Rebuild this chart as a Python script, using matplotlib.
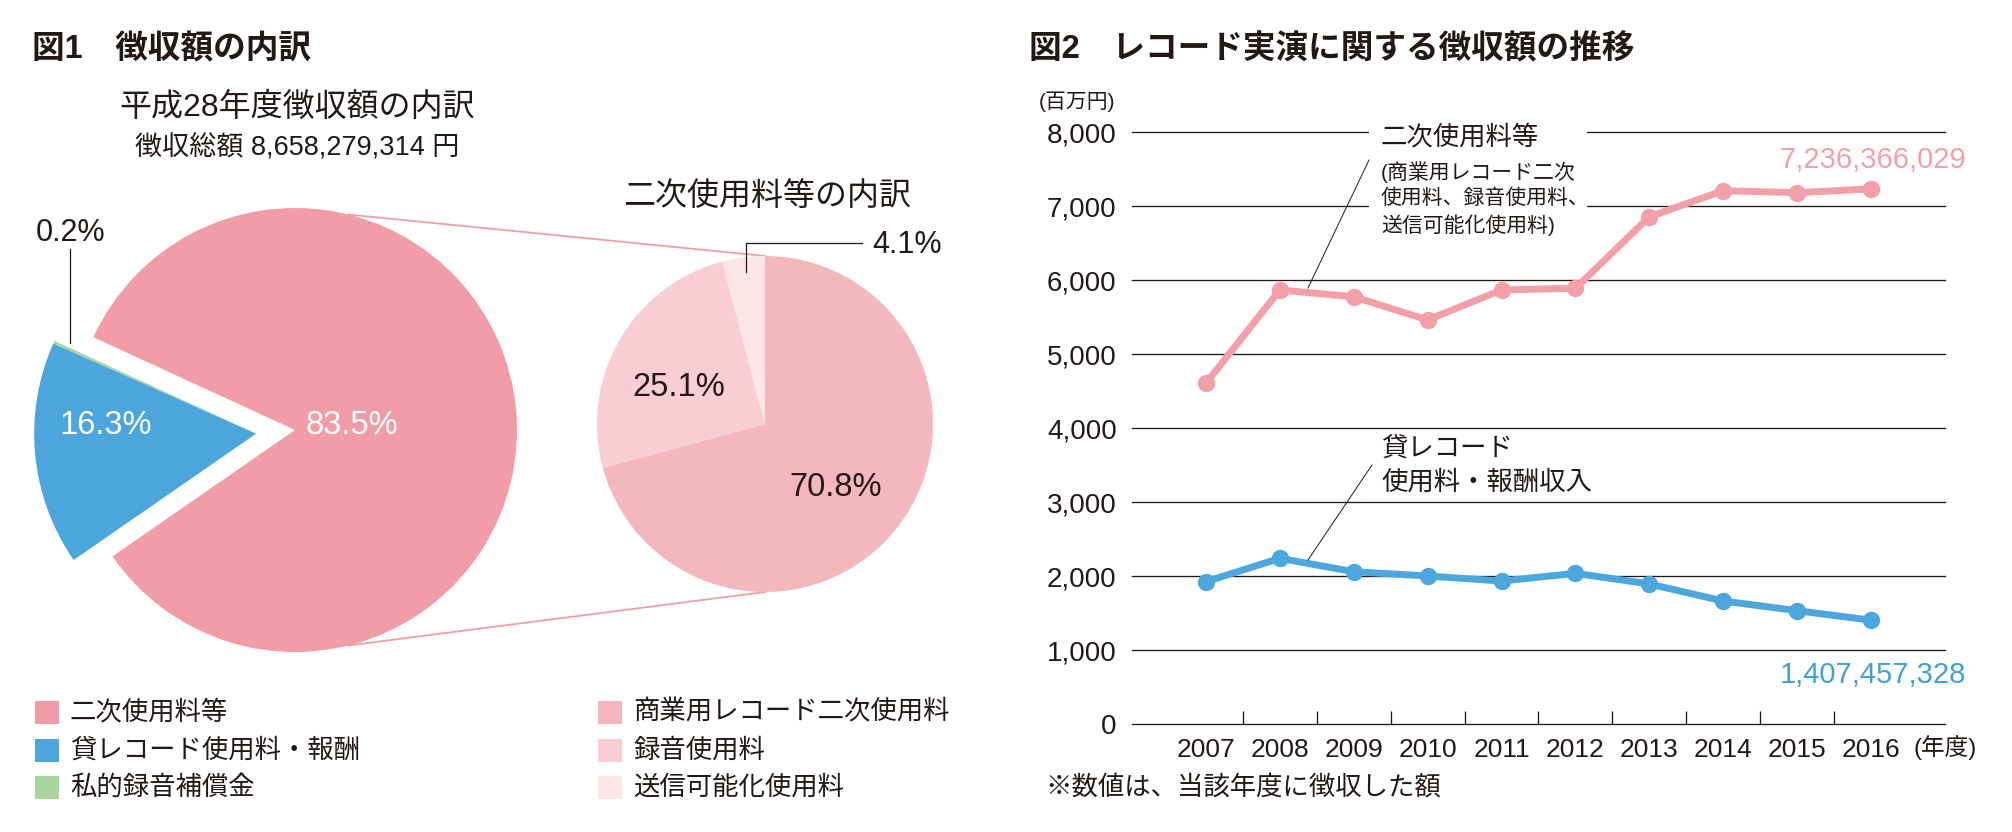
import math
import matplotlib
matplotlib.use("Agg")
import matplotlib.pyplot as plt
import matplotlib.patches as mpatches
from matplotlib.lines import Line2D

plt.rcParams['font.family'] = ['Liberation Sans', 'Noto Sans CJK JP']

# --- 図1: 徴収額の内訳 ---
main_labels = ["二次使用料等", "貸レコード使用料・報酬", "私的録音補償金"]
main_share = [83.5, 16.3, 0.2]
main_colors = ["#F19CA6", "#4CA5DC", "#A8D59B"]

sub_labels = ["商業用レコード二次使用料", "録音使用料", "送信可能化使用料"]
sub_share = [70.8, 25.1, 4.1]
sub_colors = ["#F4B7BE", "#F8CED4", "#FBE5E6"]

total_amount = "8,658,279,314"

# --- 図2: レコード実演に関する徴収額の推移 (百万円) ---
years = [2007, 2008, 2009, 2010, 2011, 2012, 2013, 2014, 2015, 2016]
secondary = [4608, 5869, 5778, 5464, 5869, 5892, 6859, 7211, 7184, 7236]
rental = [1927, 2243, 2062, 2004, 1936, 2040, 1896, 1666, 1535, 1407]
secondary_last = "7,236,366,029"
rental_last = "1,407,457,328"

PINK_LINE = "#F29FA8"
BLUE_LINE = "#4CA7DE"
INK = "#231815"

W, H = 2012, 832


def fx(x):
    return x / W


def fy(y):
    return 1 - y / H


fig = plt.figure(figsize=(W / 100, H / 100), dpi=100)

# canvas axes in pixel units for the pies (y measured from bottom)
ax0 = fig.add_axes([0, 0, 1, 1])
big_c = (295, H - 430)
big_r = 222
wedges, _ = ax0.pie(main_share, colors=main_colors, startangle=155.3, counterclock=False,
                    center=big_c, radius=big_r, explode=[0, 39, 39],
                    wedgeprops=dict(linewidth=0))
# keep the green sliver attached to the blue wedge
wedges[2].set_center(wedges[1].center)

sub_c = (765, H - 424)
sub_r = 168
ax0.pie(sub_share, colors=sub_colors, startangle=90, counterclock=False,
        center=sub_c, radius=sub_r, wedgeprops=dict(linewidth=0))
ax0.set_xlim(0, W)
ax0.set_ylim(0, H)
ax0.axis('off')

# connector lines between the two pies
for ang, yy in [(76, sub_c[1] + sub_r), (-76, sub_c[1] - sub_r)]:
    x0 = big_c[0] + big_r * math.cos(math.radians(ang))
    y0 = big_c[1] + big_r * math.sin(math.radians(ang))
    ax0.plot([x0, sub_c[0]], [y0, yy], color=main_colors[0], lw=1.3, zorder=0.5)

# pie labels
ax0.text(352, H - 425, f"{main_share[0]}%", color="white", fontsize=23.5, ha="center", va="center")
ax0.text(106, H - 425, f"{main_share[1]}%", color="white", fontsize=23.5, ha="center", va="center")
ax0.text(71, H - 233, f"{main_share[2]}%", color=INK, fontsize=22, ha="center", va="center")
ax0.plot([70, 70], [H - 249, H - 343], color=INK, lw=0.9)

ax0.text(836, H - 488, f"{sub_share[0]}%", color=INK, fontsize=23.5, ha="center", va="center")
ax0.text(679, H - 387, f"{sub_share[1]}%", color=INK, fontsize=23.5, ha="center", va="center")
ax0.text(907, H - 245, f"{sub_share[2]}%", color=INK, fontsize=22, ha="center", va="center")
ax0.plot([746, 746, 862], [H - 272, H - 243, H - 243], color=INK, lw=0.9)

# titles
fig.text(fx(32), fy(50), "図1　徴収額の内訳", fontsize=23.5, fontweight="bold", va="center", color=INK)
fig.text(fx(297), fy(108), "平成28年度徴収額の内訳", fontsize=23, ha="center", va="center", color=INK)
fig.text(fx(297), fy(147), f"徴収総額 {total_amount} 円", fontsize=19.5, ha="center", va="center", color=INK)
fig.text(fx(767), fy(197), "二次使用料等の内訳", fontsize=23, ha="center", va="center", color=INK)

# legends
rows = [712, 750, 787]
for lab, col, yy in zip(main_labels, main_colors, rows):
    ax0.add_patch(mpatches.Rectangle((35, H - yy - 11.5), 24, 23, facecolor=col, lw=0))
    ax0.text(70, H - yy, lab, fontsize=19, va="center", color=INK)
for lab, col, yy in zip(sub_labels, sub_colors, rows):
    ax0.add_patch(mpatches.Rectangle((598, H - yy - 11.5), 24, 23, facecolor=col, lw=0))
    ax0.text(633, H - yy, lab, fontsize=19, va="center", color=INK)

# --- line chart ---
x_left, x_right, y_top, y_bot = 1132, 1945, 132.3, 724.3
ax = fig.add_axes([fx(x_left), fy(y_bot), (x_right - x_left) / W, (y_bot - y_top) / H])
ax.set_xlim(2006, 2017)
ax.set_ylim(0, 8000)
for s in ax.spines.values():
    s.set_visible(False)

yt = list(range(0, 8001, 1000))
for v in yt:
    ax.axhline(v, color=INK, lw=0.95, zorder=1, clip_on=False)
ax.set_yticks(yt)
ax.set_yticklabels([f"{v:,}" for v in yt])
ax.tick_params(axis="y", length=0, pad=11, labelsize=20, labelcolor=INK)

ax.set_xticks(years)
ax.set_xticklabels([str(y) for y in years])
ax.tick_params(axis="x", which="major", length=0, pad=10, labelsize=19, labelcolor=INK)
ax.set_xticks([y + 0.5 for y in years[:-1]], minor=True)
ax.tick_params(axis="x", which="minor", direction="in", length=9.4, width=0.95, color=INK)

# white gap in the gridlines behind the annotation
ax.add_patch(mpatches.Rectangle((fx(1369), fy(234)), fx(1587) - fx(1369), (234 - 114) / H,
                                transform=fig.transFigure, facecolor="white", lw=0,
                                zorder=1.5, clip_on=False))

ax.plot(years, secondary, color=PINK_LINE, lw=5, marker="o", ms=11.5,
        solid_capstyle="round", zorder=3, clip_on=False)
ax.plot(years, rental, color=BLUE_LINE, lw=5, marker="o", ms=11.5,
        solid_capstyle="round", zorder=3, clip_on=False)

fig.text(fx(1029), fy(50), "図2　レコード実演に関する徴収額の推移", fontsize=23.5,
         fontweight="bold", va="center", color=INK)
fig.text(fx(1039), fy(102), "(百万円)", fontsize=15, va="center", color=INK)
fig.text(fx(1945), fy(748), "(年度)", fontsize=17, ha="center", va="center", color=INK)
fig.text(fx(1045), fy(788), "※数値は、当該年度に徴収した額", fontsize=19, va="center", color=INK)

fig.text(fx(1381), fy(137), "二次使用料等", fontsize=19, va="center", color=INK)
for txt, yy in zip(["(商業用レコード二次", "使用料、録音使用料、", "送信可能化使用料)"], [172, 198, 225]):
    fig.text(fx(1381), fy(yy), txt, fontsize=15, va="center", color=INK)
fig.add_artist(Line2D([fx(1369), fx(1308)], [fy(160), fy(288)], transform=fig.transFigure,
                      color=INK, lw=0.7))

fig.text(fx(1381), fy(448), "貸レコード", fontsize=19, va="center", color=INK)
fig.text(fx(1381), fy(482), "使用料・報酬収入", fontsize=19, va="center", color=INK)
fig.add_artist(Line2D([fx(1372), fx(1308)], [fy(465), fy(560)], transform=fig.transFigure,
                      color=INK, lw=0.7))

fig.text(fx(1966), fy(160), secondary_last, fontsize=21, ha="right", va="center", color=PINK_LINE)
fig.text(fx(1966), fy(675), rental_last, fontsize=21, ha="right", va="center", color="#3FA0DA")

fig.savefig("out.png", dpi=100)
